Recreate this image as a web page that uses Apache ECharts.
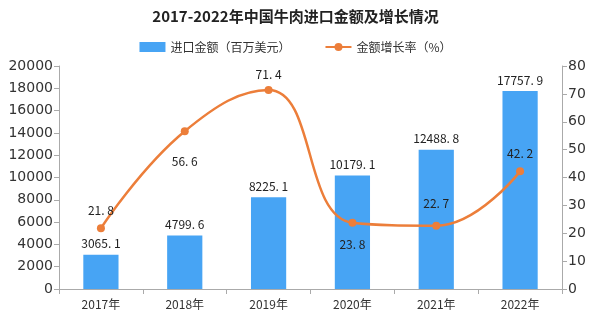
<!DOCTYPE html>
<html><head><meta charset="utf-8">
<script src="https://cdn.jsdelivr.net/npm/echarts@6/dist/echarts.min.js"></script>
<style>html,body{margin:0;padding:0;background:#fff}#c{width:591px;height:323px}</style>
</head><body><div id="c"></div>
<script>
const categories = ['2017年','2018年','2019年','2020年','2021年','2022年'];
const importValue = [3065.1, 4799.6, 8225.1, 10179.1, 12488.8, 17757.9];
const growthRate = [21.8, 56.6, 71.4, 23.8, 22.7, 42.2];
const leftTicks = {min:0, max:20000, interval:2000};
const rightTicks = {min:0, max:80, interval:10};

const labelPos = ['top','bottom','top','bottom','top','top'];
const labelDist = [8, 20, 6, 12, 12, 8];
const fmt = v => String(v).replace('.', '. ');

const chart = echarts.init(document.getElementById('c'), null, {renderer:'canvas'});
const font = '"Noto Sans CJK SC", "DejaVu Sans", sans-serif';
chart.setOption({
  animation:false,
  backgroundColor:'#fff',
  title:{text:'2017-2022年中国牛肉进口金额及增长情况', left:'center', top:4,
    textStyle:{fontSize:15, fontWeight:'bold', color:'#222', fontFamily:font}},
  legend:{top:36, left:'center', itemGap:34, itemWidth:26, itemHeight:10,
    textStyle:{fontSize:12, color:'#333', fontFamily:font},
    data:[{name:'进口金额（百万美元）', icon:'rect'}, {name:'金额增长率（%）'}]},
  grid:{left:59, right:29, top:66, bottom:34},
  xAxis:{type:'category', data:categories,
    axisLine:{lineStyle:{color:'#aaa'}},
    axisTick:{show:true, lineStyle:{color:'#aaa'}},
    axisLabel:{color:'#333', fontSize:12, margin:9, fontFamily:font}},
  yAxis:[
    {type:'value', min:leftTicks.min, max:leftTicks.max, interval:leftTicks.interval,
      axisLine:{show:true, lineStyle:{color:'#aaa'}},
      axisTick:{show:true, length:5, lineStyle:{color:'#aaa'}},
      splitLine:{show:false},
      axisLabel:{color:'#333', fontSize:14, margin:6, fontFamily:'"DejaVu Sans", sans-serif',
        formatter:v=>String(v)}},
    {type:'value', min:rightTicks.min, max:rightTicks.max, interval:rightTicks.interval,
      axisLine:{show:true, lineStyle:{color:'#aaa'}},
      axisTick:{show:true, length:5, lineStyle:{color:'#aaa'}},
      splitLine:{show:false},
      axisLabel:{color:'#333', fontSize:14, margin:6, fontFamily:'"DejaVu Sans", sans-serif',
        formatter:v=>String(v)}}
  ],
  series:[
    {name:'进口金额（百万美元）', type:'bar', data:importValue, barWidth:'42%',
      itemStyle:{color:'#47A4F4'},
      label:{show:true, position:'top', distance:5, color:'#222', fontSize:12, fontFamily:font,
        formatter:p=>fmt(p.value)}},
    {name:'金额增长率（%）', type:'line', yAxisIndex:1, smooth:0.45,
      symbol:'circle', symbolSize:8,
      lineStyle:{color:'#EC7E3A', width:2.5},
      itemStyle:{color:'#EC7E3A'},
      data:growthRate.map((v,i)=>({value:v, label:{position:labelPos[i], distance:labelDist[i]}})),
      label:{show:true, color:'#222', fontSize:12, fontFamily:font, formatter:p=>fmt(p.value)}}
  ]
});
</script></body></html>
